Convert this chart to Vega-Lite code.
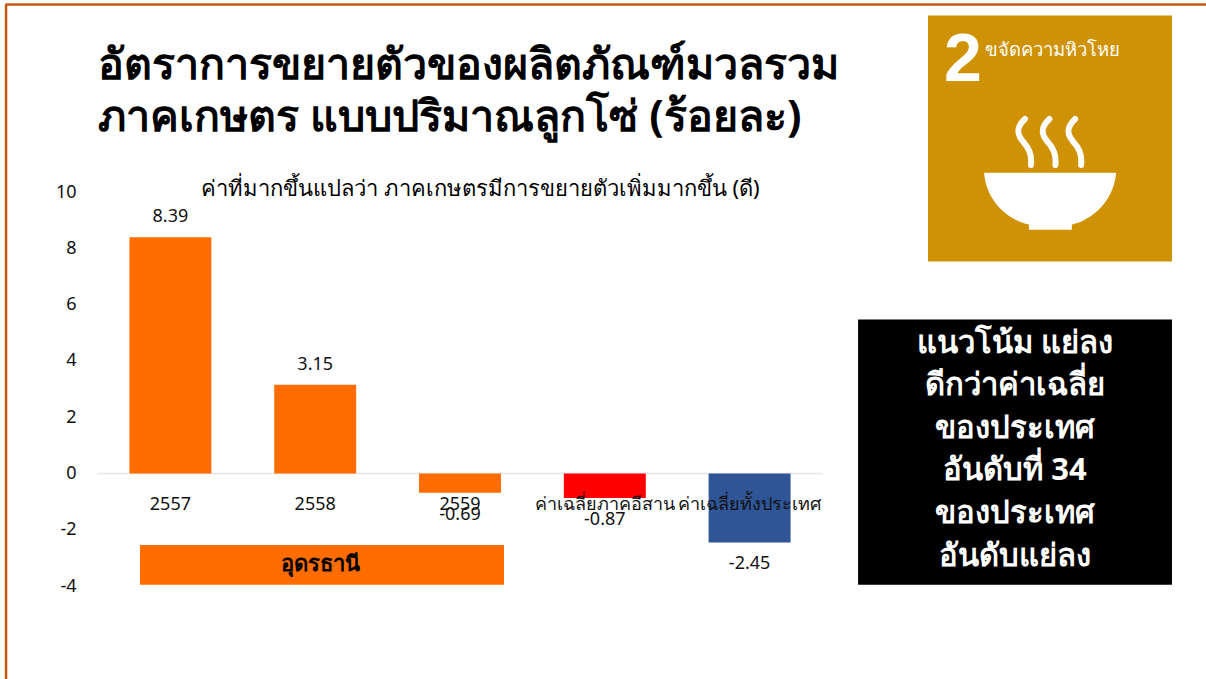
{
"$schema":"https://vega.github.io/schema/vega-lite/v6.json",
"autosize":{"type":"none"},
"padding":{"left":98,"top":192,"right":384,"bottom":93},
"width":724,"height":394,
"background":"white",
"config":{"view":{"stroke":null},"text":{"font":"Noto Sans"},"axis":{"labelFont":"Noto Sans"}},
"layer":[
{"data":{"values":[{}]},"layer":[
{"mark":{"type":"rule","color":"#C55A11","strokeWidth":2.5},"encoding":{"x":{"datum":-0.64,"scale":{"domain":[0,5]},"axis":null},"x2":{"datum":7.66},"y":{"datum":16.66,"scale":{"domain":[-4,10]},"axis":null}}},
{"mark":{"type":"rule","color":"#C55A11","strokeWidth":2.5},"encoding":{"x":{"datum":-0.635,"scale":{"domain":[0,5]},"axis":null},"y":{"datum":16.66,"scale":{"domain":[-4,10]},"axis":null},"y2":{"datum":-7.35}}},
{"mark":{"type":"rule","color":"#E6E6E6","strokeWidth":1.5},"encoding":{"x":{"datum":0,"scale":{"domain":[0,5]},"axis":null},"x2":{"datum":5},"y":{"datum":0,"scale":{"domain":[-4,10]},"axis":null}}},
{"mark":{"type":"rect","color":"#FF6D00"},"encoding":{"x":{"datum":0.29,"scale":{"domain":[0,5]},"axis":null},"x2":{"datum":2.804},"y":{"datum":-2.54,"scale":{"domain":[-4,10]},"axis":null},"y2":{"datum":-3.96}}},
{"mark":{"type":"rect","color":"#CE9204"},"encoding":{"x":{"datum":5.732,"scale":{"domain":[0,5]},"axis":null},"x2":{"datum":7.417},"y":{"datum":16.27,"scale":{"domain":[-4,10]},"axis":null},"y2":{"datum":7.53}}},
{"mark":{"type":"rect","color":"#000000"},"encoding":{"x":{"datum":5.249,"scale":{"domain":[0,5]},"axis":null},"x2":{"datum":7.417},"y":{"datum":5.47,"scale":{"domain":[-4,10]},"axis":null},"y2":{"datum":-3.96}}},
{"mark":{"type":"point","filled":true,"color":"white","opacity":1,"size":17424,"shape":"M-1,-0.015 L1,-0.015 C0.97,0.4 0.65,0.7 0.33,0.77 L0.33,0.85 L-0.32,0.85 L-0.32,0.77 C-0.65,0.7 -0.97,0.4 -1,-0.015 Z"},"encoding":{"x":{"datum":6.575,"scale":{"domain":[0,5]},"axis":null},"y":{"datum":10.65,"scale":{"domain":[-4,10]},"axis":null}}},
{"mark":{"type":"point","filled":false,"stroke":"white","strokeWidth":6,"strokeCap":"round","opacity":1,"size":17424,"shape":"M-0.38,-0.83 C-0.52,-0.7 -0.5,-0.6 -0.42,-0.5 C-0.33,-0.4 -0.27,-0.3 -0.29,-0.13 M-0.01,-0.83 C-0.15,-0.7 -0.13,-0.6 -0.05,-0.5 C0.04,-0.4 0.1,-0.3 0.08,-0.13 M0.38,-0.83 C0.24,-0.7 0.26,-0.6 0.34,-0.5 C0.43,-0.4 0.49,-0.3 0.47,-0.13"},"encoding":{"x":{"datum":6.575,"scale":{"domain":[0,5]},"axis":null},"y":{"datum":10.65,"scale":{"domain":[-4,10]},"axis":null}}},
{"mark":{"type":"text","text":["อัตราการขยายตัวของผลิตภัณฑ์มวลรวม","ภาคเกษตร แบบปริมาณลูกโซ่ (ร้อยละ)"],"align":"left","baseline":"middle","fontSize":43,"fontWeight":"bold","lineHeight":52,"color":"#000000"},"encoding":{"x":{"datum":0,"scale":{"domain":[0,5]},"axis":null},"y":{"datum":14.49,"scale":{"domain":[-4,10]},"axis":null}}},
{"mark":{"type":"text","text":"ค่าที่มากขึ้นแปลว่า ภาคเกษตรมีการขยายตัวเพิ่มมากขึ้น (ดี)","align":"center","baseline":"middle","fontSize":22,"color":"#000000"},"encoding":{"x":{"datum":2.64,"scale":{"domain":[0,5]},"axis":null},"y":{"datum":10.09,"scale":{"domain":[-4,10]},"axis":null}}},
{"mark":{"type":"text","text":"อุดรธานี","align":"center","baseline":"middle","fontSize":22,"fontWeight":"bold","color":"#000000"},"encoding":{"x":{"datum":1.54,"scale":{"domain":[0,5]},"axis":null},"y":{"datum":-3.22,"scale":{"domain":[-4,10]},"axis":null}}},
{"mark":{"type":"text","text":"2","font":"Liberation Sans","align":"center","baseline":"middle","fontSize":68,"fontWeight":"bold","color":"white"},"encoding":{"x":{"datum":5.973,"scale":{"domain":[0,5]},"axis":null},"y":{"datum":14.64,"scale":{"domain":[-4,10]},"axis":null}}},
{"mark":{"type":"text","text":"ขจัดความหิวโหย","align":"left","baseline":"middle","fontSize":18.5,"color":"white"},"encoding":{"x":{"datum":6.126,"scale":{"domain":[0,5]},"axis":null},"y":{"datum":15.06,"scale":{"domain":[-4,10]},"axis":null}}},
{"mark":{"type":"text","text":["แนวโน้ม แย่ลง","ดีกว่าค่าเฉลี่ย","ของประเทศ","อันดับที่ 34","ของประเทศ","อันดับแย่ลง"],"align":"center","baseline":"middle","fontSize":31,"fontWeight":"bold","lineHeight":42.6,"color":"white"},"encoding":{"x":{"datum":6.333,"scale":{"domain":[0,5]},"axis":null},"y":{"datum":4.61,"scale":{"domain":[-4,10]},"axis":null}}}
]},
{"data":{"values":[
{"label":"2557","value":8.39,"valueText":"8.39","group":"อุดรธานี"},
{"label":"2558","value":3.15,"valueText":"3.15","group":"อุดรธานี"},
{"label":"2559","value":-0.69,"valueText":"-0.69","group":"อุดรธานี"},
{"label":"ค่าเฉลี่ยภาคอีสาน","value":-0.87,"valueText":"-0.87","group":"ภาคอีสาน"},
{"label":"ค่าเฉลี่ยทั้งประเทศ","value":-2.45,"valueText":"-2.45","group":"ประเทศ"}
]},
"layer":[
{"mark":{"type":"bar"},"encoding":{
"x":{"field":"label","type":"nominal","sort":null,"scale":{"paddingInner":0.434,"paddingOuter":0.217},"axis":null},
"y":{"field":"value","type":"quantitative","scale":{"domain":[-4,10]},"axis":{"title":null,"values":[-4,-2,0,2,4,6,8,10],"grid":false,"domain":false,"ticks":false,"labelPadding":22,"labelFontSize":18,"labelColor":"#111111","orient":"left","labelExpr":"replace(datum.label,'−','-')"}},
"color":{"field":"group","type":"nominal","scale":{"domain":["อุดรธานี","ภาคอีสาน","ประเทศ"],"range":["#FF6D00","#FF0000","#2F5597"]},"legend":null}}},
{"transform":[{"filter":"datum.value>=0"}],"mark":{"type":"text","dy":-20,"baseline":"middle","fontSize":18,"color":"#111111"},"encoding":{
"x":{"field":"label","type":"nominal","sort":null,"axis":null},
"y":{"field":"value","type":"quantitative","scale":{"domain":[-4,10]},"title":null},
"text":{"field":"valueText","type":"nominal"}}},
{"transform":[{"filter":"datum.value<0"}],"mark":{"type":"text","dy":22,"baseline":"middle","fontSize":18,"color":"#111111"},"encoding":{
"x":{"field":"label","type":"nominal","sort":null,"axis":null},
"y":{"field":"value","type":"quantitative","scale":{"domain":[-4,10]},"title":null},
"text":{"field":"valueText","type":"nominal"}}},
{"mark":{"type":"text","baseline":"middle","fontSize":18,"color":"#111111"},"encoding":{
"x":{"field":"label","type":"nominal","sort":null,"axis":null},
"y":{"datum":-1.12,"scale":{"domain":[-4,10]},"title":null},
"text":{"field":"label","type":"nominal"}}}
]}
],
"resolve":{"scale":{"x":"independent"},"axis":{"x":"independent","y":"independent"}}
}
